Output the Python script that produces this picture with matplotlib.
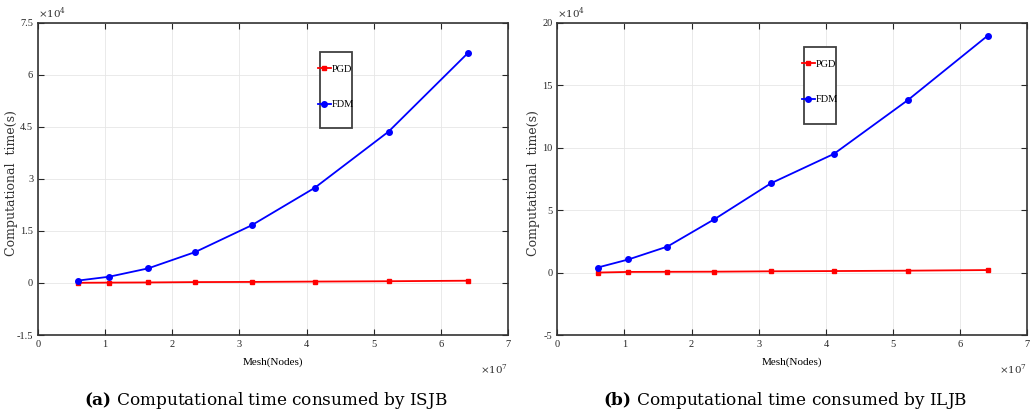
import numpy as np
import matplotlib
matplotlib.use("Agg")
import matplotlib.pyplot as plt
from matplotlib.patches import Rectangle
from matplotlib.ticker import FuncFormatter

plt.rcParams['font.family'] = ['Liberation Serif', 'DejaVu Serif']
plt.rcParams['mathtext.fontset'] = 'custom'
plt.rcParams['mathtext.rm'] = 'DejaVu Serif'
plt.rcParams['mathtext.bf'] = 'DejaVu Serif:bold'

# mesh sizes (x 1e7 nodes)
mesh = [0.60, 1.06, 1.64, 2.34, 3.18, 4.12, 5.22, 6.41]

# computational time (x 1e4 s)
pgd_isjb = [0.005, 0.01, 0.015, 0.025, 0.03, 0.04, 0.05, 0.065]
fdm_isjb = [0.07, 0.18, 0.42, 0.89, 1.66, 2.74, 4.36, 6.64]
pgd_iljb = [0.0, 0.05, 0.06, 0.07, 0.10, 0.12, 0.15, 0.20]
fdm_iljb = [0.40, 1.05, 2.08, 4.27, 7.14, 9.50, 13.80, 18.96]

yticks_a = [-1.5, 0, 1.5, 3, 4.5, 6, 7.5]
yticks_b = [-5, 0, 5, 10, 15, 20]
xticks = [0, 1, 2, 3, 4, 5, 6, 7]

captions = [("(a)", "Computational time consumed by ISJB"),
            ("(b)", "Computational time consumed by ILJB")]

fig = plt.figure(figsize=(10.33, 4.17), dpi=100)
ax1 = fig.add_axes([0.0368, 0.1966, 0.455, 0.749])
ax2 = fig.add_axes([0.5395, 0.1966, 0.455, 0.749])

fmt = FuncFormatter(lambda v, p: ('%g' % v).replace('\u2212', '-'))

panels = [(ax1, pgd_isjb, fdm_isjb, yticks_a, (0.6, 0.663, 0.068, 0.243), -0.043),
          (ax2, pgd_iljb, fdm_iljb, yticks_b, (0.525, 0.676, 0.068, 0.246), -0.037)]

for ax, pgd, fdm, yt, box, lx in panels:
    ax.plot(mesh, pgd, color='red', marker='s', markersize=3.5, lw=1.3, label='PGD')
    ax.plot(mesh, fdm, color='blue', marker='o', markersize=4, lw=1.3, label='FDM')
    ax.set_xlim(0, 7)
    ax.set_ylim(yt[0], yt[-1])
    ax.set_xticks(xticks)
    ax.set_yticks(yt)
    ax.xaxis.set_major_formatter(fmt)
    ax.yaxis.set_major_formatter(fmt)
    ax.grid(True, color='0.9', lw=0.6)
    ax.tick_params(direction='in', top=True, right=True, labelsize=7.5, length=4,
                   width=0.8, colors='0.15', pad=3.5)
    for s in ax.spines.values():
        s.set_color('0.2')
        s.set_linewidth(1.2)
    ax.set_xlabel('Mesh(Nodes)', fontsize=8, labelpad=6)
    ax.set_ylabel('Computational  time(s)', fontsize=9, family='DejaVu Serif',
                  color='0.2')
    ax.yaxis.set_label_coords(lx, 0.485)
    ax.text(0.0, 1.005, r'$\times 10^4$', transform=ax.transAxes, fontsize=7.5,
            ha='left', va='bottom', color='0.2')
    ax.text(1.0, -0.09, r'$\times 10^7$', transform=ax.transAxes, fontsize=7.5,
            ha='right', va='top', color='0.2')
    # legend box
    ax.add_patch(Rectangle((box[0], box[1]), box[2], box[3], transform=ax.transAxes,
                           fill=True, facecolor='white', edgecolor='0.25', lw=1.3, zorder=5))
    leg = ax.legend(loc='upper left', bbox_to_anchor=(box[0] - 0.004, box[1] + box[3] - 0.04),
                    frameon=False, fontsize=7.5, handlelength=1.2, handletextpad=0.1,
                    labelspacing=2.5, borderpad=0.0, borderaxespad=0)
    leg.set_zorder(6)

for (lab, txt), cx in zip(captions, [0.2575, 0.7604]):
    fig.text(cx, 0.04, r'$\mathbf{' + lab + '}$ ' + txt, ha='center', va='center',
             fontsize=12.2, family='DejaVu Serif')

fig.savefig('out.png', dpi=100)
